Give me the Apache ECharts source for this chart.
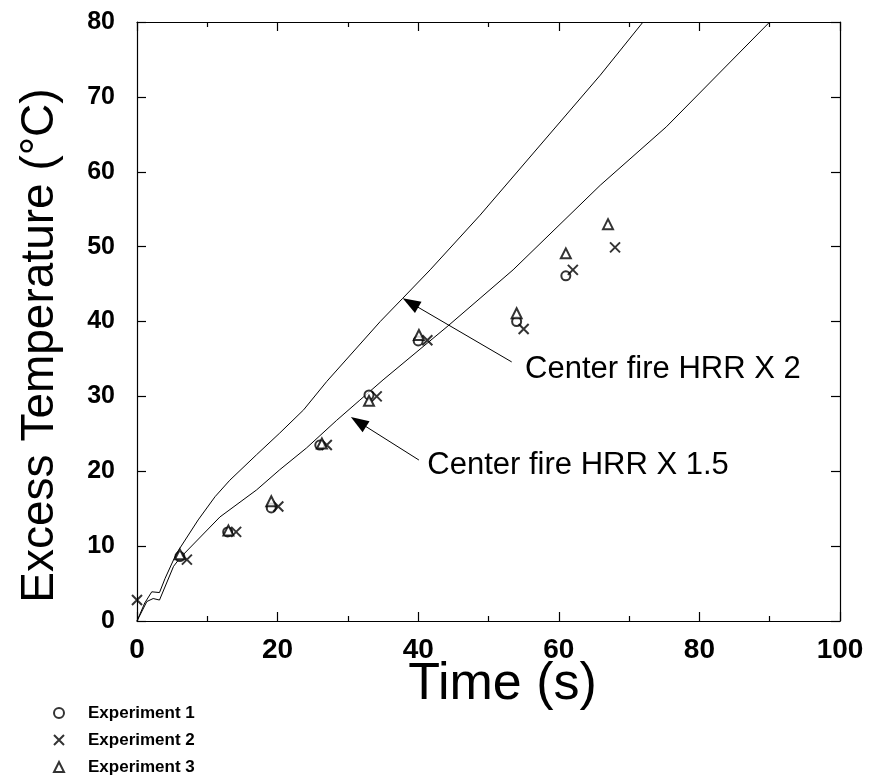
<!DOCTYPE html>
<html>
<head>
<meta charset="utf-8">
<script src="https://cdn.jsdelivr.net/npm/echarts@6/dist/echarts.min.js"></script>
<style>
  html, body { margin: 0; padding: 0; background: #fff; }
  #chart { width: 870px; height: 778px; }
</style>
</head>
<body>
<div id="chart"></div>
<script>
// axis ticks
const xTicks = [0, 20, 40, 60, 80, 100];
const yTicks = [0, 10, 20, 30, 40, 50, 60, 70, 80];

// measured points [time s, excess temperature C]
const exp1 = [[6.1, 8.6], [12.9, 11.9], [19.1, 15.1], [26.0, 23.5], [33.0, 30.2], [40.0, 37.4], [54.0, 40.0], [61.0, 46.1]];
const exp2 = [[0, 2.8], [7.1, 8.2], [14.1, 11.9], [20.1, 15.3], [27.0, 23.5], [34.1, 30.0], [41.3, 37.5], [55.0, 39.0], [62.0, 46.9], [68.0, 49.9]];
const exp3 = [[6.1, 8.9], [13.0, 12.1], [19.1, 16.0], [26.3, 23.7], [33.0, 29.4], [40.1, 38.2], [54.0, 41.1], [61.0, 49.1], [67.0, 53.0]];

// model curves
const hrrX2 = [[0, 0], [1.1, 2.4], [2.1, 3.9], [3.2, 3.8], [4.0, 5.7], [5.6, 9.0], [8.7, 13.5], [11.1, 16.6], [13.2, 18.8],
  [17.0, 22.2], [20.3, 25.1], [23.7, 28.2], [27.0, 32.0], [34.6, 40.0], [37.8, 43.1], [41.7, 46.9], [48.8, 54.2],
  [65.9, 72.9], [71.9, 79.9]];
const hrrX15 = [[0, 0], [1.4, 2.6], [2.3, 3.0], [3.2, 2.8], [5.2, 7.3], [6.1, 8.4], [11.8, 13.9], [17.0, 17.5],
  [20.3, 20.2], [24.1, 23.1], [28.4, 26.8], [31.7, 29.5], [35.0, 32.2], [44.1, 39.3], [48.8, 43.1], [53.5, 46.9],
  [65.9, 58.2], [75.3, 66.0], [90.0, 80.0]];

// annotations: text anchor, arrow tail, arrow head centre
const notes = [
  { text: 'Center fire HRR X 2', at: [55.2, 33.6], from: [53.3, 34.6], to: [38.9, 42.5] },
  { text: 'Center fire HRR X 1.5', at: [41.3, 20.8], from: [40.1, 21.5], to: [31.5, 26.6] }
];

const font = 'Liberation Sans, Arial, Helvetica, sans-serif';
const crossPath = 'path://M0,0L10,10M10,0L0,10';

const chart = echarts.init(document.getElementById('chart'));

const frameX = (pos, labels) => ({
  type: 'value', position: pos, min: 0, max: 100, interval: 20,
  axisLine: { show: true, onZero: false, lineStyle: { color: '#000', width: 1.2 } },
  axisTick: { show: true, inside: true, length: 9, lineStyle: { color: '#000', width: 1.2 } },
  minorTick: { show: true, splitNumber: 2, length: 5, lineStyle: { color: '#000', width: 1.2 } },
  splitLine: { show: false },
  axisLabel: labels ? {
    show: true, fontSize: 28, fontWeight: 'bold', color: '#000', fontFamily: font, margin: 15,
    formatter: v => xTicks.includes(v) ? String(v) : ''
  } : { show: false }
});

const frameY = (pos, labels) => ({
  type: 'value', position: pos, min: 0, max: 80, interval: 10,
  axisLine: { show: true, onZero: false, lineStyle: { color: '#000', width: 1.2 } },
  axisTick: { show: true, inside: true, length: 9, lineStyle: { color: '#000', width: 1.2 } },
  splitLine: { show: false },
  axisLabel: labels ? {
    show: true, fontSize: 25, fontWeight: 'bold', color: '#000', fontFamily: font, margin: 22,
    formatter: v => yTicks.includes(v) ? String(v) : ''
  } : { show: false }
});

const xBottom = frameX('bottom', true);
xBottom.name = 'Time (s)';
xBottom.nameLocation = 'middle';
xBottom.nameMoveOverlap = false;
xBottom.nameGap = 38;
xBottom.nameTextStyle = { fontSize: 52, color: '#000', fontFamily: font, padding: [0, 0, 0, 28] };

const yLeft = frameY('left', true);
yLeft.name = 'Excess Temperature (°C)';
yLeft.nameLocation = 'middle';
yLeft.nameMoveOverlap = false;
yLeft.nameGap = 74;
yLeft.nameTextStyle = { fontSize: 46, color: '#000', fontFamily: font, padding: [0, 48, 0, 0] };

const option = {
  animation: false,
  backgroundColor: '#fff',
  grid: { left: 137, right: 30, top: 22, bottom: 157 },
  xAxis: [xBottom, frameX('top', false)],
  yAxis: [yLeft, frameY('right', false)],
  legend: {
    orient: 'vertical', left: 53, top: 704, padding: 0, itemGap: 9,
    itemWidth: 10, itemHeight: 10,
    textStyle: { fontSize: 17, lineHeight: 18, fontWeight: 'bold', color: '#000', fontFamily: font, padding: [0, 0, 0, 19] },
    data: [
      { name: 'Experiment 1', icon: 'emptyCircle' },
      { name: 'Experiment 2', icon: crossPath },
      { name: 'Experiment 3', icon: 'emptyTriangle' }
    ]
  },
  series: [
    {
      name: 'HRR X 2', type: 'line', data: hrrX2, showSymbol: false, symbol: 'none',
      lineStyle: { color: '#000', width: 1 }, z: 2,
      markLine: {
        silent: true, animation: false,
        lineStyle: { color: '#000', width: 1, type: 'solid' },
        label: { show: false },
        data: notes.map(n => [
          { coord: n.from, symbol: 'none' },
          { coord: n.to, symbol: 'triangle', symbolSize: [13, 18] }
        ])
      },
      markPoint: {
        silent: true, symbol: 'circle', symbolSize: 0,
        label: { show: true, position: 'right', distance: 0, fontSize: 31, color: '#000', fontFamily: font, formatter: p => p.name },
        data: notes.map(n => ({ name: n.text, coord: n.at }))
      }
    },
    {
      name: 'HRR X 1.5', type: 'line', data: hrrX15, showSymbol: false, symbol: 'none',
      lineStyle: { color: '#000', width: 1 }, z: 2
    },
    {
      name: 'Experiment 1', type: 'scatter', data: exp1, symbol: 'emptyCircle', symbolSize: 9,
      itemStyle: { color: '#000', borderWidth: 2 }, z: 3
    },
    {
      name: 'Experiment 2', type: 'scatter', data: exp2, symbol: crossPath, symbolSize: 10,
      itemStyle: { color: '#000', borderColor: '#000', borderWidth: 2 }, z: 3
    },
    {
      name: 'Experiment 3', type: 'scatter', data: exp3, symbol: 'emptyTriangle', symbolSize: 10,
      itemStyle: { color: '#000', borderWidth: 2 }, z: 3
    }
  ]
};

chart.setOption(option);
</script>
</body>
</html>
